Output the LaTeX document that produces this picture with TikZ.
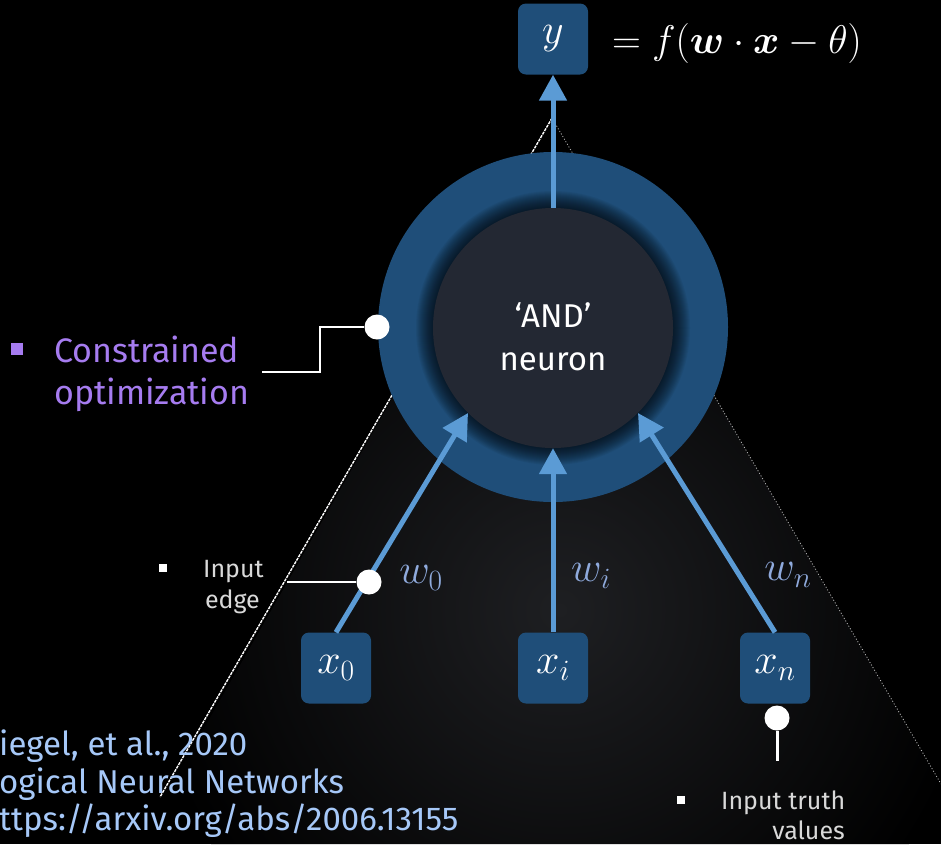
\RequirePackage{fix-cm}
\documentclass[tikz,border=0pt]{standalone}
\usepackage{amsmath}
\usepackage{fontspec}
\setmainfont{Fira Sans}
\usetikzlibrary{arrows.meta}

\definecolor{ringblue}{HTML}{1F4E79}
\definecolor{corefill}{HTML}{232833}
\definecolor{edgeblue}{HTML}{5B9BD5}
\definecolor{weightblue}{HTML}{8FAADC}
\definecolor{notepurple}{HTML}{A67CF0}
\definecolor{citeblue}{HTML}{A6C8F8}
\definecolor{notegray}{HTML}{D9D9D9}
\definecolor{conegray}{HTML}{1E1F22}

\begin{document}
\begin{tikzpicture}[x=1pt,y=-1pt,
  varbox/.style={fill=ringblue, rounded corners=8pt, minimum width=70pt,
    minimum height=71pt, inner sep=0pt, text=white, font=\fontsize{42}{42}\selectfont},
  flow/.style={draw=edgeblue, line width=5pt, -{Triangle[width=27pt,length=26pt]}},
  wlabel/.style={text=weightblue, font=\fontsize{42}{42}\selectfont, inner sep=0pt},
  knob/.style={circle, fill=white, minimum size=25pt, inner sep=0pt},
  pointer/.style={draw=white, line width=2.6pt},
  notetext/.style={text=notegray, font=\fontsize{25}{30}\selectfont, inner sep=0pt},
  bulletsq/.style={fill=#1, minimum size=8pt, inner sep=0pt},
  citetext/.style={text=citeblue, font=\fontsize{33}{33}\selectfont, inner sep=0pt, anchor=base west},
]
% canvas
\fill[black] (0,0) rectangle (941,844);
\useasboundingbox (0,0) rectangle (941,844);

% spotlight cone below the neuron
\coordinate (apex) at (552,118);
\begin{scope}
  \clip (apex) -- (138,844) -- (941,844) -- (941,784) -- cycle;
  \shade[inner color=conegray, outer color=black] (560,610) circle (420pt);
\end{scope}
\draw[white, line width=1.4pt, dash pattern=on 3pt off 1pt] (apex) -- (160,797);
\draw[gray!55, line width=0.8pt, dash pattern=on 1pt off 2pt] (apex) -- (941,784);

% neuron: outer ring, soft shadow, core
\node[circle, fill=ringblue, minimum size=350pt, inner sep=0pt] (ring) at (553,327) {};
\foreach \r in {121,...,137}
  \fill[black, opacity=0.05] (553,328) circle (\r pt);
\node[circle, fill=corefill, minimum size=240pt, inner sep=0pt] (neuron) at (553,328) {};
\node[text=white, align=center, font=\fontsize{33}{43}\selectfont, inner sep=0pt]
  (neurontext) at (553,337) {‘AND’\\neuron};

% variables
\node[varbox] (y) at (553,39) {$y$};
\node[varbox] (x0) at (336,668) {$x_0$};
\node[varbox] (xi) at (553,668) {$x_i$};
\node[varbox] (xn) at (775,668) {$x_n$};

\node[text=white, anchor=west, inner sep=0pt, font=\fontsize{40}{40}\selectfont]
  (eq) at (612,43) {$=f(\boldsymbol{w}\cdot\boldsymbol{x}-\theta)$};

% weighted input edges and output
\draw[flow] (neuron.north) -- (y.south);
\draw[flow] (x0.north) -- (neuron.225);
\draw[flow] (xi.north) -- (neuron.south);
\draw[flow] (xn.north) -- (neuron.315);

\node[wlabel] (w0) at (421,578) {$w_0$};
\node[wlabel] (wi) at (591,576) {$w_i$};
\node[wlabel] (wn) at (788,575) {$w_n$};

% callout: constrained optimization
\node[bulletsq=notepurple, minimum size=12pt] (cb) at (17,349) {};
\node[anchor=base west, text=notepurple, inner sep=0pt, font=\fontsize{34}{34}\selectfont]
  (copt1) at (54,362) {Constrained};
\node[anchor=base west, text=notepurple, inner sep=0pt, font=\fontsize{34}{34}\selectfont]
  (copt2) at (54,404) {optimization};
\node[knob] (knobC) at (377,327) {};
\coordinate (coptend) at (262,372);
\draw[pointer] (coptend) -- ++(58,0) |- (knobC);

% callout: input edge
\node[bulletsq=white] (eb) at (163,568) {};
\node[notetext, anchor=base west] (edge1) at (203,577) {Input};
\node[notetext, anchor=base east] (edge2) at (260,608) {edge};
\node[knob] (knobE) at (369,582) {};
\coordinate (edgeend) at (287,582);
\draw[pointer] (edgeend) -- (knobE);

% callout: input truth values
\node[knob] (knobT) at (777,718) {};
\coordinate (truthend) at (777,761);
\draw[pointer, line width=3pt] (knobT) -- (truthend);
\node[bulletsq=white] (tb) at (681,800) {};
\node[notetext, anchor=base west] (truth1) at (721,809) {Input truth};
\node[notetext, anchor=base east] (truth2) at (845,839) {values};

% reference
\node[citetext] (c1) at (-1,755) {iegel, et al., 2020};
\node[citetext] (c2) at (-1,793) {ogical Neural Networks};
\node[citetext] (c3) at (-1,830) {ttps://arxiv.org/abs/2006.13155};
\end{tikzpicture}
\end{document}
